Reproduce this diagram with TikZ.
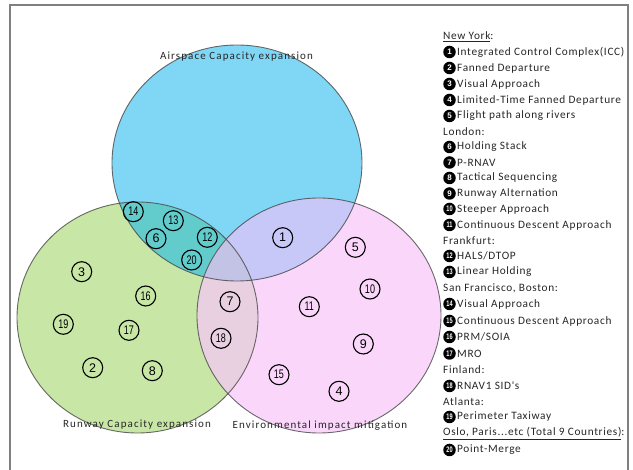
\documentclass[tikz,border=0pt]{standalone}
\usepackage{fontspec}
\setmainfont{Carlito}
\newfontfamily\numfont{Liberation Sans}
\newfontfamily\legfont[LetterSpace=6]{Carlito}
\newfontfamily\lblfont[LetterSpace=10]{Carlito}
\definecolor{cblue}{RGB}{128,214,245}
\definecolor{cgreen}{RGB}{200,230,165}
\definecolor{cpink}{RGB}{250,215,250}
\definecolor{cbg}{RGB}{98,204,204}
\definecolor{cbp}{RGB}{200,200,248}
\definecolor{cgp}{RGB}{232,208,224}
\definecolor{cbgp}{RGB}{195,195,230}
\definecolor{frame}{RGB}{128,128,128}
\definecolor{edge}{RGB}{70,70,70}
\tikzset{
  num/.style={circle,draw=black,line width=1.1pt,minimum size=20pt,inner sep=0pt,font=\numfont\fontsize{12.5}{12.5}\selectfont},
  bul/.style={circle,fill=black,minimum size=12.5pt,inner sep=0pt,text=white,font=\numfont\bfseries\fontsize{8}{8}\selectfont},
  legtxt/.style={anchor=west,inner sep=0pt,font=\legfont\fontsize{11.3}{12}\selectfont,text=black!85},
  setlbl/.style={inner sep=0pt,font=\lblfont\fontsize{11}{12}\selectfont,text=black!85},
}
\newcommand\tw[1]{\scalebox{0.72}[1]{#1}}
\begin{document}
\begin{tikzpicture}[x=1pt,y=-1pt]
\useasboundingbox (0,0) rectangle (633,470);
\draw[frame,line width=1.8pt] (10,471) -- (10,5) -- (628,5) -- (628,471);
\coordinate (B) at (237,163);
\coordinate (G) at (137.5,317.5);
\coordinate (P) at (319,315.5);
\def\Bc{(B) ellipse [x radius=125pt,y radius=118pt]}
\def\Gc{(G) ellipse [x radius=120.5pt,y radius=115.5pt]}
\def\Pc{(P) ellipse [x radius=122pt,y radius=117.5pt]}
% fills
\fill[cgreen] \Gc;
\fill[cpink] \Pc;
\fill[cblue] \Bc;
\begin{scope}\clip \Bc; \fill[cbg] \Gc; \end{scope}
\begin{scope}\clip \Bc; \fill[cbp] \Pc; \end{scope}
\begin{scope}\clip \Gc; \fill[cgp] \Pc; \end{scope}
\begin{scope}\clip \Gc; \clip \Bc; \fill[cbgp] \Pc; \end{scope}
% outlines
\draw[edge,line width=0.9pt,draw opacity=0.8] \Gc;
\draw[edge,line width=0.9pt,draw opacity=0.8] \Pc;
\draw[edge,line width=0.9pt,draw opacity=0.8] \Bc;
% set labels
\node[setlbl] (lb) at (236.5,57) {Airspace Capacity expansion};
\node[setlbl] (lg) at (137,425) {Runway Capacity expansion};
\node[setlbl] (lp) at (320,426) {Environmental impact mitigation};
% numbers in diagram
\node[num] (n1) at (282.7,237.7) {1};
\node[num] (n2) at (92.7,367.7) {2};
\node[num] (n3) at (81.7,271.7) {3};
\node[num] (n4) at (339,391.3) {4};
\node[num] (n5) at (355.3,247.3) {5};
\node[num] (n6) at (156,238.7) {6};
\node[num] (n7) at (230,301.7) {7};
\node[num] (n8) at (152.3,370.7) {8};
\node[num] (n9) at (363.3,344) {9};
\node[num] (n10) at (370,289) {\tw{10}};
\node[num] (n11) at (309.3,306.7) {\tw{11}};
\node[num] (n12) at (207.3,237.3) {\tw{12}};
\node[num] (n13) at (173.3,220.7) {\tw{13}};
\node[num] (n14) at (133.3,211.7) {\tw{14}};
\node[num] (n15) at (279,374.7) {\tw{15}};
\node[num] (n16) at (145.7,296) {\tw{16}};
\node[num] (n17) at (129,330.3) {\tw{17}};
\node[num] (n18) at (221,338.3) {\tw{18}};
\node[num] (n19) at (63.3,324.3) {\tw{19}};
\node[num] (n20) at (191.7,260) {\tw{20}};
% legend headers
\node[legtxt] (h1) at (443,37) {\underline{New York}:};
\node[legtxt] (h2) at (443,131.5) {London:};
\node[legtxt] (h3) at (443,240.5) {Frankfurt:};
\node[legtxt] (h4) at (443,288) {San Francisco, Boston:};
\node[legtxt] (h5) at (443,370) {Finland:};
\node[legtxt] (h6) at (443,401.5) {Atlanta:};
\node[legtxt] (h7) at (443,433.5) {\underline{Oslo, Paris...etc (Total 9 Countries)}:};
% legend items
\foreach \y/\n/\t in {
  52/1/{Integrated Control Complex(ICC)},
  68/2/{Fanned Departure},
  84/3/{Visual Approach},
  100/4/{Limited-Time Fanned Departure},
  116/5/{Flight path along rivers},
  147/6/{Holding Stack},
  162.5/7/{P-RNAV},
  178/8/{Tactical Sequencing},
  193.5/9/{Runway Alternation},
  209/10/{Steeper Approach},
  225/11/{Continuous Descent Approach},
  256/12/{HALS/DTOP},
  272/13/{Linear Holding},
  304/14/{Visual Approach},
  321/15/{Continuous Descent Approach},
  337/16/{PRM/SOIA},
  353.5/17/{MRO},
  386/18/{RNAV1 SID's},
  417/19/{Perimeter Taxiway},
  450/20/{Point-Merge}}{
  \node[bul] (b\n) at (449.5,\y) {\ifnum\n>9 \scalebox{0.7}[1]{\n}\else\n\fi};
  \node[legtxt] (t\n) at (457,\y) {\t};
}
\end{tikzpicture}
\end{document}
